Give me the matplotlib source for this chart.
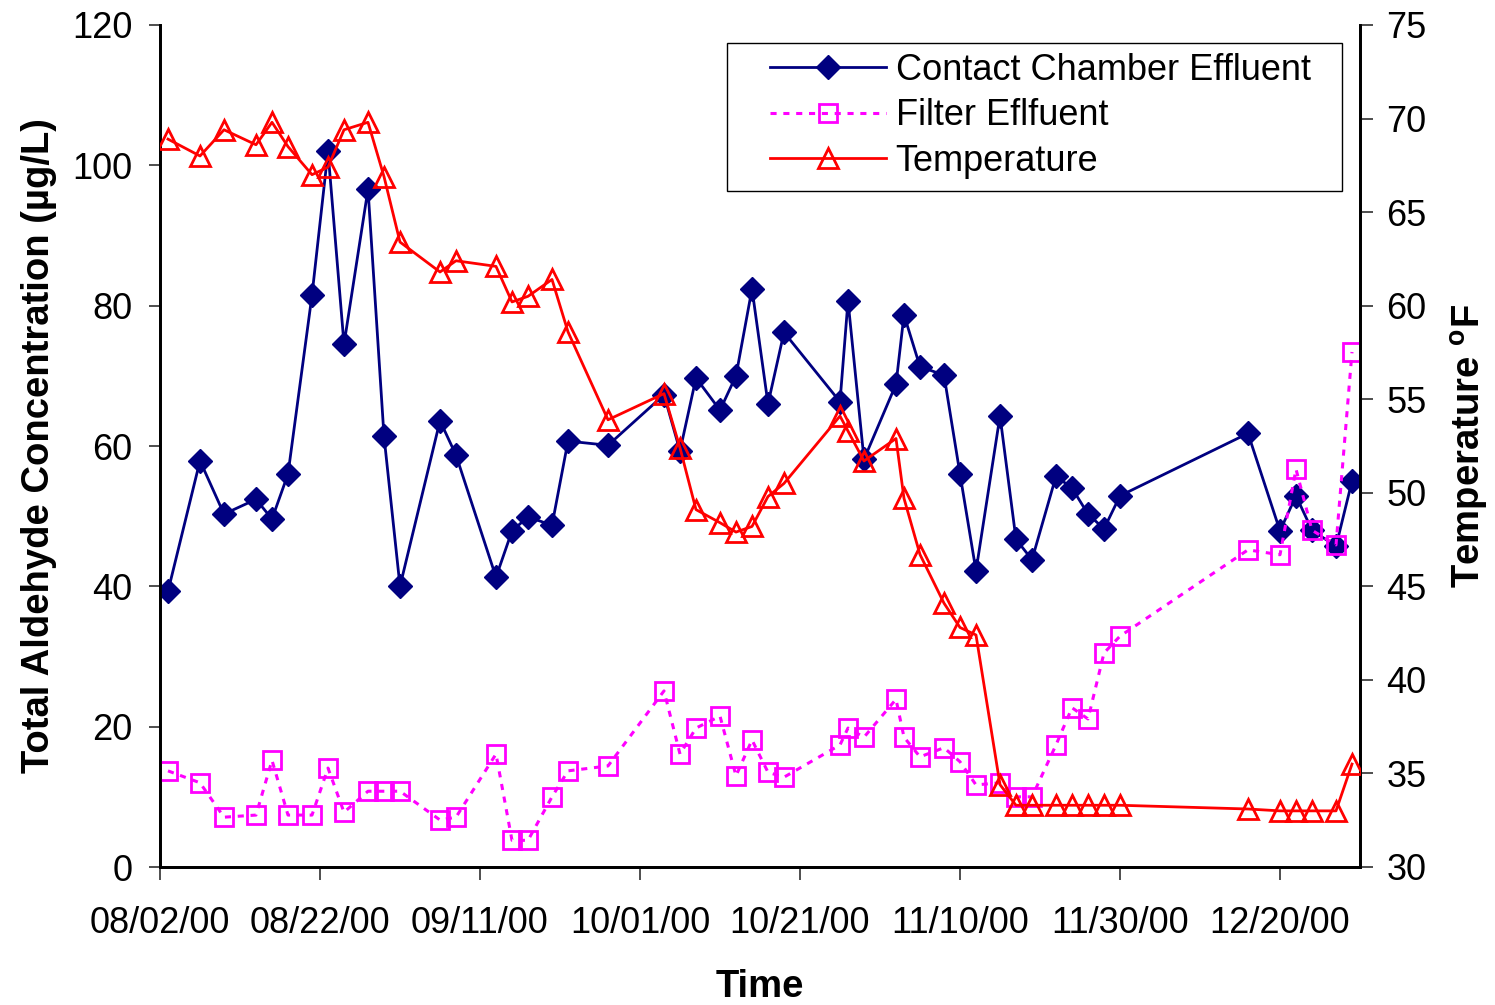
import matplotlib
matplotlib.use('Agg')
import matplotlib.pyplot as plt
import matplotlib.dates as mdates
from matplotlib.patches import Rectangle
import pandas as pd

plt.rcParams['font.family'] = ['Liberation Sans', 'DejaVu Sans']
plt.rcParams['mathtext.fontset'] = 'custom'
plt.rcParams['mathtext.rm'] = 'Liberation Sans'
plt.rcParams['mathtext.bf'] = 'Liberation Sans:bold'

# sampling dates (mm/dd/yy)
dates = ['08/03/00', '08/07/00', '08/10/00', '08/14/00', '08/16/00', '08/18/00', '08/21/00',
         '08/23/00', '08/25/00', '08/28/00', '08/30/00', '09/01/00', '09/06/00', '09/08/00',
         '09/13/00', '09/15/00', '09/17/00', '09/20/00', '09/22/00', '09/27/00', '10/04/00',
         '10/06/00', '10/08/00', '10/11/00', '10/13/00', '10/15/00', '10/17/00', '10/19/00',
         '10/26/00', '10/27/00', '10/29/00', '11/02/00', '11/03/00', '11/05/00', '11/08/00',
         '11/10/00', '11/12/00', '11/15/00', '11/17/00', '11/19/00', '11/22/00', '11/24/00',
         '11/26/00', '11/28/00', '11/30/00', '12/16/00', '12/20/00', '12/22/00', '12/24/00',
         '12/27/00', '12/29/00']

# total aldehyde (ug/L)
contact = [39.3, 57.9, 50.3, 52.4, 49.6, 56.0, 81.5, 102.0, 74.5, 96.6,
           61.4, 40.0, 63.6, 58.7, 41.3, 47.9, 49.9, 48.7, 60.7, 60.1,
           67.3, 59.3, 69.7, 65.1, 70.0, 82.4, 66.0, 76.2, 66.3, 80.7,
           58.1, 68.8, 78.7, 71.3, 70.1, 56.0, 42.2, 64.3, 46.7, 43.8,
           55.7, 54.0, 50.3, 48.2, 52.9, 61.8, 47.9, 52.9, 48.0, 45.7, 55.0]
filter_eff = [13.7, 12.0, 7.1, 7.4, 15.2, 7.4, 7.4, 14.1, 7.8, 10.8,
              10.8, 10.8, 6.7, 7.1, 16.1, 3.8, 3.8, 10.0, 13.7, 14.4,
              25.1, 16.1, 19.8, 21.5, 13.0, 18.1, 13.5, 12.8, 17.4, 19.8,
              18.5, 23.9, 18.5, 15.7, 17.0, 15.0, 11.7, 12.0, 10.0, 10.0,
              17.4, 22.7, 21.1, 30.5, 32.9, 45.2, 44.5, 56.7, 48.0, 45.9, 73.4]

# temperature (F)
temperature = [68.9, 68.0, 69.4, 68.6, 69.8, 68.5, 67.0, 67.4, 69.4, 69.8,
               66.9, 63.4, 61.8, 62.4, 62.1, 60.2, 60.5, 61.4, 58.6, 53.9,
               55.3, 52.4, 49.1, 48.4, 47.9, 48.2, 49.8, 50.5, 54.1, 53.3,
               51.7, 52.9, 49.7, 46.7, 44.1, 42.8, 42.4, 34.4, 33.3, 33.3,
               33.3, 33.3, 33.3, 33.3, 33.3, 33.1, 33.0, 33.0, 33.0, 33.0, 35.5]

x = pd.to_datetime(dates, format='%m/%d/%y')

fs = 26
lfs = 27.5
fig = plt.figure(figsize=(14.95, 10.05), dpi=100)
ax = fig.add_axes([160/1495, 1 - 867/1005, 1200/1495, 842/1005])
ax2 = ax.twinx()

l1, = ax.plot(x, contact, color='#000080', lw=2.0, marker='D', ms=12,
              mfc='#000080', mec='#000080', label='Contact Chamber Effluent', zorder=3)
l2, = ax.plot(x, filter_eff, color='#FF00FF', lw=2.2, ls=(0, (2.0, 2.2)), marker='s', ms=13.5,
              mfc='none', mec='#FF00FF', mew=2.0, label='Filter Eflfuent', zorder=4)
l3, = ax2.plot(x, temperature, color='#FF0000', lw=2.0, marker='^', ms=15,
               mfc='none', mec='#FF0000', mew=2.0, label='Temperature', zorder=3)

ax.set_xlim(pd.Timestamp('2000-08-02'), pd.Timestamp('2000-12-30'))
ax.set_xticks(pd.date_range('2000-08-02', periods=8, freq='20D'))
ax.xaxis.set_major_formatter(mdates.DateFormatter('%m/%d/%y'))
ax.set_ylim(0, 120)
ax.set_yticks(range(0, 121, 20))
ax2.set_ylim(30, 75)
ax2.set_yticks(range(30, 76, 5))

for a in (ax, ax2):
    a.spines['top'].set_visible(False)
    for s in ('left', 'right', 'bottom'):
        a.spines[s].set_linewidth(2.0)
    a.patch.set_visible(False)
ax.tick_params(axis='x', labelsize=fs, length=9, width=1.3, pad=19, color='#404040')
ax.tick_params(axis='y', labelsize=fs, length=8, width=1.3, pad=12, color='#404040')
ax2.tick_params(axis='y', labelsize=fs, length=9, width=1.3, pad=10, color='#404040')

ax.set_xlabel('Time', fontsize=lfs, fontweight='bold')
ax.xaxis.set_label_coords(0.5, -0.121)
ax.set_ylabel('Total Aldehyde Concentration (µg/L)', fontsize=lfs, fontweight='bold')
ax.yaxis.set_label_coords(-0.086, 0.5)
ax2.set_ylabel(r'Temperature $^\mathbf{o}$F', fontsize=lfs, fontweight='bold')
ax2.yaxis.set_label_coords(1.0745, 0.5)

ax2.add_patch(Rectangle((0.4725, 0.8029), 0.5125, 0.1758, transform=ax2.transAxes,
                        facecolor='white', edgecolor='black', lw=1.0, zorder=4, clip_on=False))
ax2.legend([l1, l2, l3], [l1.get_label(), l2.get_label(), l3.get_label()],
           loc='upper left', bbox_to_anchor=(0.5083, 0.967), frameon=False,
           fontsize=fs, borderpad=0, borderaxespad=0, handlelength=3.2,
           handletextpad=0.28, labelspacing=0.29)

fig.savefig('out.png', dpi=100)
